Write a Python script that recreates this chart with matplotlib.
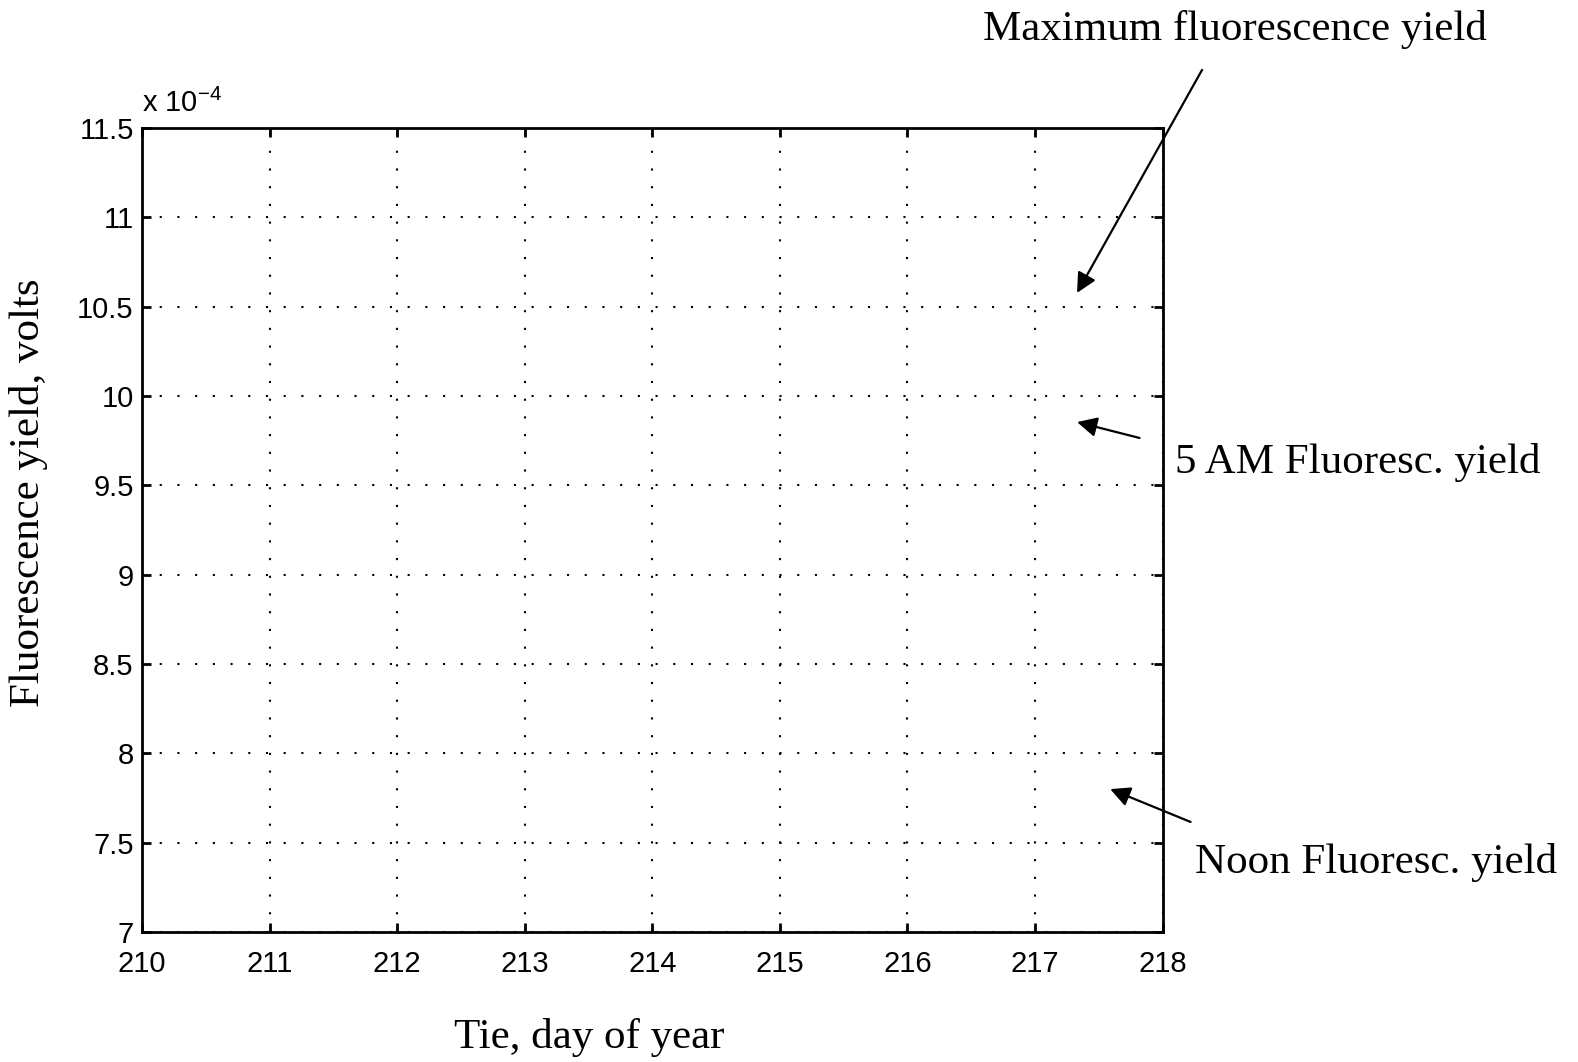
import numpy as np
import matplotlib.pyplot as plt
from matplotlib.ticker import FuncFormatter

# Axis ranges / ticks (y values in volts, shown in units of 1e-4)
x_ticks = [210, 211, 212, 213, 214, 215, 216, 217, 218]
y_ticks = [7.0e-4, 7.5e-4, 8.0e-4, 8.5e-4, 9.0e-4, 9.5e-4, 10.0e-4, 10.5e-4, 11.0e-4, 11.5e-4]
y_scale = 1e-4

# Annotation labels, arrow tips and tails (data coords)
labels = ["Maximum fluorescence yield", "5 AM Fluoresc. yield", "Noon Fluoresc. yield"]
tip_x = [217.33, 217.33, 217.59]
tip_y = [10.577e-4, 9.854e-4, 7.80e-4]
tail_x = [218.31, 217.82, 218.22]
tail_y = [11.825e-4, 9.765e-4, 7.616e-4]
text_pos = [(0.623, 0.962), (0.7446, 0.5546), (0.7573, 0.178)]

serif = ['Liberation Serif', 'DejaVu Serif']
sans = ['Liberation Sans', 'DejaVu Sans']

fig = plt.figure(figsize=(15.78, 10.62), dpi=100)
ax = fig.add_axes([0.090, 0.1224, 0.7367 - 0.090, 0.8795 - 0.1224])

ax.set_xlim(x_ticks[0], x_ticks[-1])
ax.set_ylim(y_ticks[0], y_ticks[-1])
ax.set_xticks(x_ticks)
ax.set_yticks(y_ticks)
ax.yaxis.set_major_formatter(FuncFormatter(lambda v, p: f"{v / y_scale:g}"))

ax.grid(True, color='black', linestyle=(0, (1, 7.5)), linewidth=1.5)
ax.tick_params(direction='in', length=6.5, width=2, top=True, right=True,
               labelsize=21)
ax.tick_params(axis='x', pad=13)
ax.tick_params(axis='y', pad=6)
for lab in ax.get_xticklabels() + ax.get_yticklabels():
    lab.set_family(sans)
for s in ax.spines.values():
    s.set_linewidth(2)

ax.text(0.0, 1.012, r"x 10$^{\mathregular{-4}}$", transform=ax.transAxes, fontsize=21,
        family=sans, ha='left', va='bottom')

# axis titles sit off-centre in the original, so place them on the figure
fig.text(589 / 1578, 1 - 1048 / 1062, "Tie, day of year", family=serif, fontsize=31,
         ha='center', va='baseline')
fig.text(29 / 1578, 1 - 493 / 1062, "Fluorescence yield, volts", family=serif, fontsize=31,
         ha='center', va='center', rotation=90)

for lab, tx, ty, sx, sy, pos in zip(labels, tip_x, tip_y, tail_x, tail_y, text_pos):
    ax.annotate("", xy=(tx, ty), xytext=(sx, sy), annotation_clip=False,
                arrowprops=dict(arrowstyle='-|>', color='black', lw=1.6,
                                mutation_scale=30, shrinkA=0, shrinkB=0))
    fig.text(pos[0], pos[1], lab, family=serif, fontsize=31, ha='left', va='baseline')

fig.savefig("out.png", dpi=100)
